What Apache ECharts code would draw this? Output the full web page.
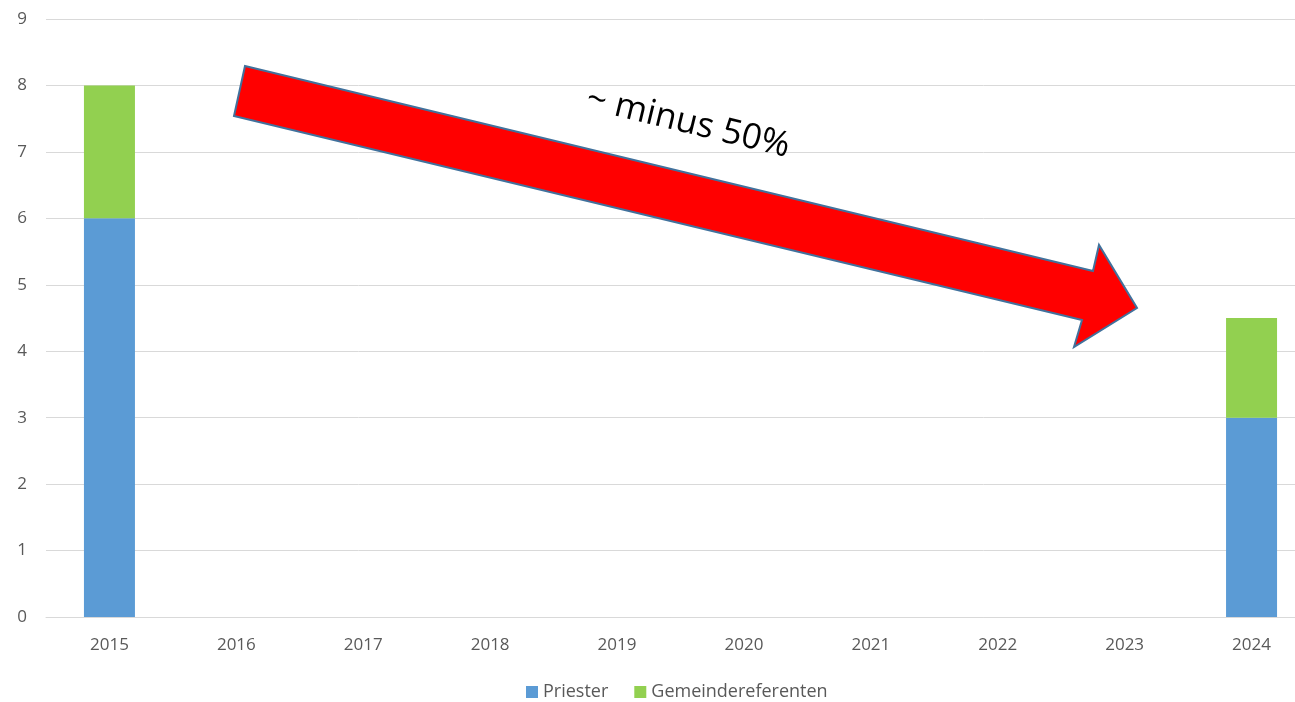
<!DOCTYPE html>
<html><head><meta charset="utf-8">
<script src="https://cdn.jsdelivr.net/npm/echarts@6/dist/echarts.min.js"></script>
<style>html,body{margin:0;padding:0;background:#fff}#c{width:1295px;height:702px}</style>
</head><body><div id="c"></div>
<script>
const years = ['2015','2016','2017','2018','2019','2020','2021','2022','2023','2024'];
const priester = [6, null, null, null, null, null, null, null, null, 3];
const gemeindereferenten = [2, null, null, null, null, null, null, null, null, 1.5];
const yTicks = [0,1,2,3,4,5,6,7,8,9];
const annotationText = '~ minus 50%';

const chart = echarts.init(document.getElementById('c'));
const font = '"Open Sans", "DejaVu Sans", sans-serif';
chart.setOption({
  animation: false,
  backgroundColor: '#fff',
  grid: { left: 46, top: 19, width: 1269, height: 598, outerBoundsMode: 'none', containLabel: false },
  legend: {
    top: 678, left: 521,
    itemWidth: 12, itemHeight: 12, itemGap: 26,
    icon: 'rect',
    textStyle: { color: '#595959', fontSize: 18, fontFamily: font },
    data: ['Priester', 'Gemeindereferenten']
  },
  xAxis: {
    type: 'category', data: years,
    axisLine: { lineStyle: { color: '#d9d9d9', width: 1 } },
    axisTick: { show: false },
    axisLabel: { color: '#595959', fontSize: 17, fontFamily: font, margin: 20 }
  },
  yAxis: {
    type: 'value', min: yTicks[0], max: yTicks[yTicks.length-1], interval: 1,
    axisLine: { show: false }, axisTick: { show: false },
    splitLine: { lineStyle: { color: '#d9d9d9', width: 1 } },
    axisLabel: { color: '#595959', fontSize: 17, fontFamily: font, margin: 19 }
  },
  series: [
    { name: 'Priester', type: 'bar', stack: 's', data: priester, barWidth: 51,
      itemStyle: { color: '#5b9bd5' } },
    { name: 'Gemeindereferenten', type: 'bar', stack: 's', data: gemeindereferenten, barWidth: 51,
      itemStyle: { color: '#92d050' } }
  ],
  graphic: [
    { type: 'polygon', z: 100,
      shape: { points: [[245,66],[1093,271],[1099,245],[1137,308],[1074,347],[1082,320],[234,116]] },
      style: { fill: '#ff0000', stroke: '#41719c', lineWidth: 2 } },
    { type: 'text', z: 101, x: 688, y: 123, rotation: -0.237,
      style: { text: annotationText, fill: '#000', font: '35px ' + font, align: 'center', verticalAlign: 'middle' } }
  ]
});
</script></body></html>
